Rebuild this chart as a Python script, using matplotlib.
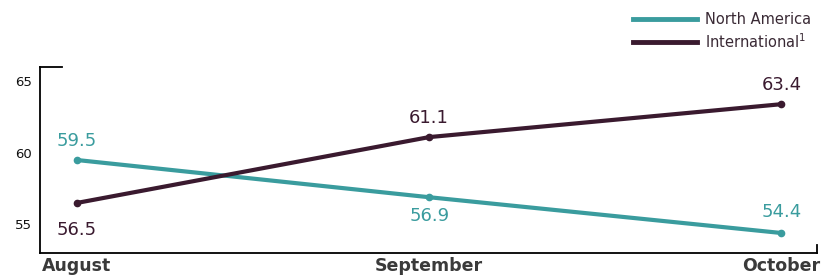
import matplotlib
matplotlib.use("Agg")
import matplotlib.pyplot as plt
from matplotlib.lines import Line2D

months = ["August", "September", "October"]
north_america = [59.5, 56.9, 54.4]
international = [56.5, 61.1, 63.4]
y_ticks = [55, 60, 65]

TEAL = "#3a9c9e"
PLUM = "#3a1a2f"

plt.rcParams["font.family"] = ["DejaVu Sans"]

fig = plt.figure(figsize=(8.3, 2.79), dpi=100)
ax = fig.add_axes([0.048, 0.093, 0.936, 0.667])

x = list(range(len(months)))
ax.plot(x, north_america, color=TEAL, lw=3, marker="o", ms=4.5, solid_capstyle="round")
ax.plot(x, international, color=PLUM, lw=3, marker="o", ms=4.5, solid_capstyle="round")

# data labels: above or below each point (offset in points)
na_offsets = [14, -13.5, 15]
int_offsets = [-19.5, 13.5, 13.5]
for xi, v, off in zip(x, north_america, na_offsets):
    ax.annotate(f"{v:.1f}", (xi, v), xytext=(0, off), textcoords="offset points",
                ha="center", va="center", fontsize=13, color=TEAL)
for xi, v, off in zip(x, international, int_offsets):
    ax.annotate(f"{v:.1f}", (xi, v), xytext=(0, off), textcoords="offset points",
                ha="center", va="center", fontsize=13, color=PLUM)

ax.set_xlim(-0.105, 2.10)
ax.set_ylim(53, 66)
ax.set_xticks(x)
ax.set_xticklabels(months, fontsize=12.5, fontweight="bold", color="#3a3a3a")
ax.set_yticks(y_ticks)
ax.set_yticklabels([str(t) for t in y_ticks], fontsize=9.5, color="#111111")
ax.tick_params(axis="both", length=0)
ax.tick_params(axis="x", pad=3)
ax.tick_params(axis="y", pad=6)

for s in ["top", "right"]:
    ax.spines[s].set_visible(False)
for s in ["left", "bottom"]:
    ax.spines[s].set_linewidth(1.3)
    ax.spines[s].set_color("black")

# small end marks on the axis frame
ax.add_line(Line2D([0, 0.028], [1, 1], transform=ax.transAxes, color="black",
                   lw=1.3, clip_on=False))
ax.add_line(Line2D([1, 1], [0, 0.045], transform=ax.transAxes, color="black",
                   lw=1.3, clip_on=False))

handles = [Line2D([], [], color=TEAL, lw=3.5),
           Line2D([], [], color=PLUM, lw=3.5)]
labels = ["North America", "International$^{1}$"]
fig.legend(handles, labels, loc="upper right", bbox_to_anchor=(0.993, 1.005), frameon=False,
           fontsize=10.5, handlelength=4.4, handletextpad=0.55,
           labelspacing=0.35, labelcolor="#3a2a35")

fig.savefig("out.png", dpi=100)
